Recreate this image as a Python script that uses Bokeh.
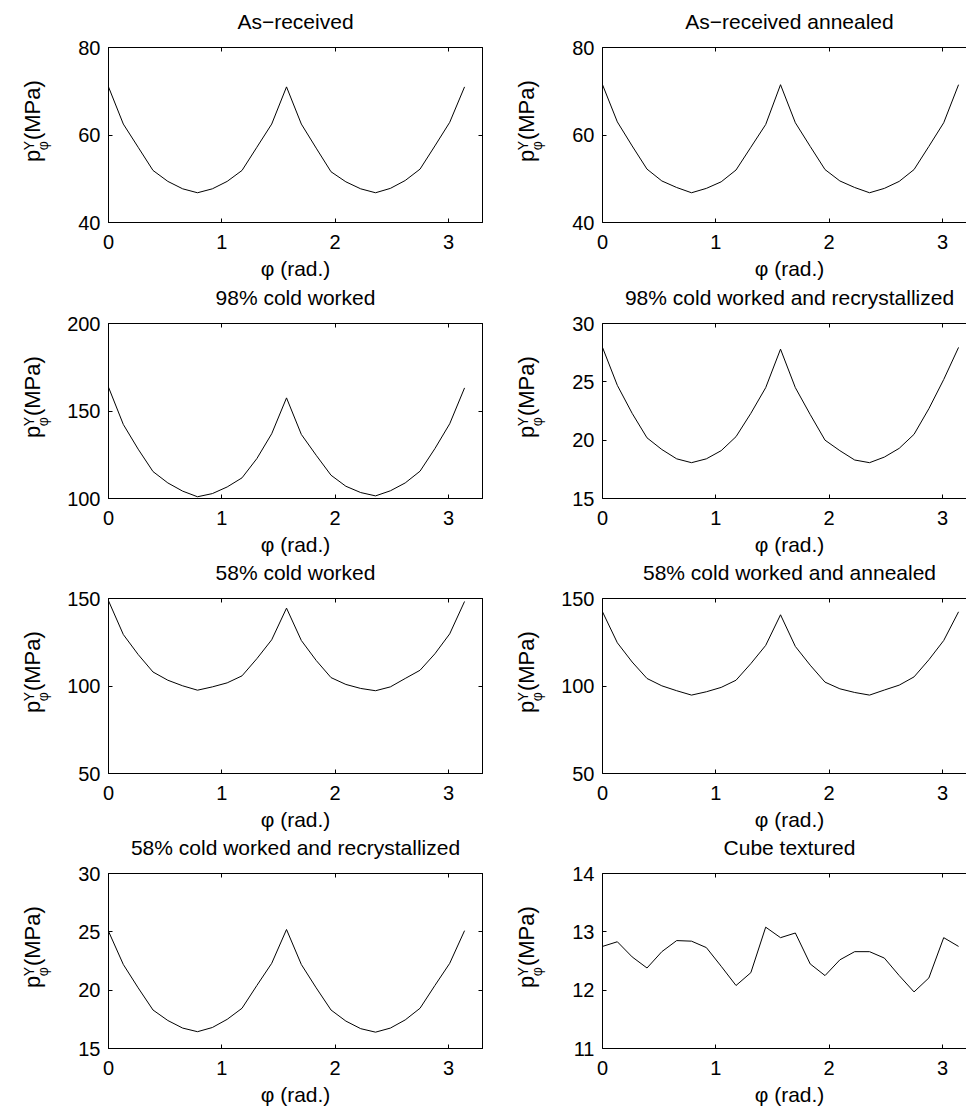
import numpy as np
from bokeh.plotting import figure
from bokeh.layouts import column, row
from bokeh.models import Range1d, FixedTicker, LinearAxis, Label, CustomJSTickFormatter
from bokeh.embed import file_html
from bokeh.resources import INLINE

FONT = "Liberation Sans"

# sample grid (phi in radians, step pi/24)
phi_step = np.pi / 24
phi = [i * phi_step for i in range(25)]

titles = [
    "As\u2212received",
    "As\u2212received annealed",
    "98% cold worked",
    "98% cold worked and recrystallized",
    "58% cold worked",
    "58% cold worked and annealed",
    "58% cold worked and recrystallized",
    "Cube textured",
]

as_received = [71.0, 62.5, 57.2, 51.9, 49.4, 47.7, 46.8, 47.7, 49.4, 51.9, 57.2, 62.5, 71.0,
               62.5, 57.0, 51.6, 49.3, 47.7, 46.8, 47.8, 49.6, 52.2, 57.5, 62.9, 71.0]
as_received_annealed = [71.5, 63.0, 57.5, 52.2, 49.5, 48.0, 46.8, 47.8, 49.3, 52.0, 57.2, 62.4, 71.5,
                        62.8, 57.4, 52.1, 49.5, 48.0, 46.8, 47.8, 49.4, 52.1, 57.4, 62.8, 71.5]
cw98 = [163.6, 142.3, 128.2, 115.4, 108.9, 104.2, 101.0, 102.8, 106.6, 111.8, 122.8, 137.0, 157.5,
        136.6, 124.7, 113.3, 107.0, 103.4, 101.5, 104.4, 108.9, 115.6, 128.5, 142.7, 163.2]
cw98_recryst = [27.95, 24.7, 22.3, 20.2, 19.2, 18.4, 18.07, 18.4, 19.1, 20.3, 22.3, 24.5, 27.8,
                24.5, 22.2, 20.0, 19.1, 18.3, 18.07, 18.55, 19.3, 20.5, 22.7, 25.2, 27.95]
cw58 = [148.7, 129.4, 118.0, 108.0, 103.3, 100.1, 97.6, 99.5, 101.8, 105.8, 115.6, 126.4, 144.5,
        126.0, 114.6, 104.8, 100.9, 98.6, 97.3, 99.5, 104.3, 109.0, 118.4, 129.8, 148.3]
cw58_annealed = [142.4, 124.7, 113.7, 104.3, 100.1, 97.3, 94.8, 96.7, 99.2, 103.3, 112.8, 123.2, 140.7,
                 122.6, 111.9, 102.2, 98.4, 96.3, 94.8, 97.7, 100.5, 105.2, 115.0, 126.0, 142.4]
cw58_recryst = [25.05, 22.2, 20.2, 18.3, 17.4, 16.75, 16.44, 16.8, 17.5, 18.45, 20.4, 22.3, 25.2,
                22.2, 20.2, 18.3, 17.35, 16.7, 16.4, 16.75, 17.45, 18.45, 20.4, 22.3, 25.1]
cube = [12.75, 12.83, 12.57, 12.38, 12.66, 12.85, 12.84, 12.73, 12.41, 12.08, 12.30, 13.08, 12.90,
        12.98, 12.45, 12.25, 12.52, 12.66, 12.66, 12.55, 12.25, 11.97, 12.21, 12.90, 12.75]

series = [as_received, as_received_annealed, cw98, cw98_recryst,
          cw58, cw58_annealed, cw58_recryst, cube]

y_ranges = [(40, 80), (40, 80), (100, 200), (15, 30), (50, 150), (50, 150), (15, 30), (11, 14)]
y_ticks = [[40, 60, 80], [40, 60, 80], [100, 150, 200], [15, 20, 25, 30],
           [50, 100, 150], [50, 100, 150], [15, 20, 25, 30], [11, 12, 13, 14]]
x_ticks = [0, 1, 2, 3]
x_label = "\u03c6 (rad.)"
y_label_main = "p"
y_label_sub = "\u03c6"
y_label_sup = "Y"
y_label_unit = "(MPa)"

# ---- layout (pixels) ----
X_FULL = 3.3
FRAME_W = 374
FRAME_W_R = 364
FRAME_H = 175
YL_W = 60            # width of the y-label strip
MAIN_L = 48          # left border of a panel (tick labels)
RIGHT_L = 12         # right border of left-column panels
MAIN_T = 12
MAIN_B = 35
MAIN_H = MAIN_T + FRAME_H + MAIN_B
W_TOTAL = YL_W + MAIN_L + FRAME_W + RIGHT_L + YL_W + MAIN_L + FRAME_W_R
FRAME_TOPS = [47, 323, 598, 873]
COL_CENTERS = [YL_W + MAIN_L + FRAME_W / 2,
               YL_W + MAIN_L + FRAME_W + RIGHT_L + YL_W + MAIN_L + FRAME_W / 2]
TITLE_RISE = 18.4
XLABEL_DROP = 53.5
TOTAL_H = 1108
FS = "20px"
MID = 0.3465         # baseline -> middle of text box, in em


def style_axis(ax, ticks, labels=True, standoff=8):
    ax.ticker = FixedTicker(ticks=ticks)
    ax.minor_tick_line_color = None
    ax.major_tick_in = 4
    ax.major_tick_out = 0
    ax.axis_line_color = "black"
    ax.axis_line_width = 1
    ax.major_tick_line_color = "black"
    ax.major_label_text_font = FONT
    ax.major_label_text_font_size = FS
    ax.major_label_text_color = "black"
    ax.major_label_standoff = standoff
    if not labels:
        ax.formatter = CustomJSTickFormatter(code="return ''")
        ax.major_label_standoff = 0
        ax.major_label_text_font_size = "0px"


def blank(width, height):
    f = figure(width=width, height=height, x_range=Range1d(0, width), y_range=Range1d(0, height),
               title=None, output_backend="svg", toolbar_location=None,
               x_axis_location=None, y_axis_location=None,
               min_border_left=0, min_border_right=0, min_border_top=0, min_border_bottom=0)
    f.grid.visible = False
    f.outline_line_color = None
    f.background_fill_color = "white"
    f.border_fill_color = "white"
    return f


def text_strip(top, bottom, items):
    h = bottom - top
    f = blank(W_TOTAL, h)
    for x, baseline, txt in items:
        mid = baseline - MID * 21
        f.add_layout(Label(x=x, y=h - (mid - top), text=txt, text_font=FONT,
                           text_font_size="21px", text_align="center",
                           text_baseline="middle", text_color="black"))
    return f


def ylabel_strip():
    f = blank(YL_W, MAIN_H)
    c = MAIN_T + FRAME_H / 2          # frame centre, from the strip top

    def put(text, size, base_x, centre_from_c):
        f.add_layout(Label(x=base_x - MID * size, y=MAIN_H - (c + centre_from_c),
                           text=text, angle=np.pi / 2, text_font=FONT,
                           text_font_size=f"{size}px", text_align="center",
                           text_baseline="middle", text_color="black"))

    put(y_label_main, 22, 40, 38)
    put(y_label_sup, 14, 33, 25)
    put(y_label_sub, 14, 47, 25)
    put(y_label_unit, 22, 40, -20)
    return f


def make_panel(idx):
    r, c = divmod(idx, 2)
    fw = FRAME_W if c == 0 else FRAME_W_R
    br = RIGHT_L if c == 0 else 0
    x_end = X_FULL * fw / FRAME_W
    y0, y1 = y_ranges[idx]
    p = figure(width=MAIN_L + fw + br, height=MAIN_H,
               x_range=Range1d(0, x_end), y_range=Range1d(y0, y1),
               title=None, output_backend="svg", toolbar_location=None,
               min_border_left=MAIN_L, min_border_right=br,
               min_border_top=MAIN_T, min_border_bottom=MAIN_B)
    p.grid.visible = False
    p.outline_line_color = "black" if c == 0 else None
    p.background_fill_color = "white"
    p.border_fill_color = "white"
    style_axis(p.xaxis[0], x_ticks, standoff=12)
    style_axis(p.yaxis[0], y_ticks[idx], standoff=8)
    top = LinearAxis()
    style_axis(top, x_ticks, labels=False)
    p.add_layout(top, "above")
    if c == 0:
        right = LinearAxis()
        style_axis(right, y_ticks[idx], labels=False)
        p.add_layout(right, "right")
    p.line(phi, series[idx], line_color="black", line_width=1)
    return p


items_rows = []
for r in range(4):
    items_rows.append(row(ylabel_strip(), make_panel(2 * r), ylabel_strip(), make_panel(2 * r + 1)))

parts = []
prev_bottom = 0
for r in range(4):
    main_top = FRAME_TOPS[r] - MAIN_T
    items = []
    if r > 0:
        fb = FRAME_TOPS[r - 1] + FRAME_H
        items += [(COL_CENTERS[0], fb + XLABEL_DROP, x_label),
                  (COL_CENTERS[1], fb + XLABEL_DROP, x_label)]
    items += [(COL_CENTERS[0], FRAME_TOPS[r] - TITLE_RISE, titles[2 * r]),
              (COL_CENTERS[1], FRAME_TOPS[r] - TITLE_RISE, titles[2 * r + 1])]
    parts.append(text_strip(prev_bottom, main_top, items))
    parts.append(items_rows[r])
    prev_bottom = main_top + MAIN_H

fb = FRAME_TOPS[3] + FRAME_H
parts.append(text_strip(prev_bottom, TOTAL_H,
                        [(COL_CENTERS[0], fb + XLABEL_DROP, x_label),
                         (COL_CENTERS[1], fb + XLABEL_DROP, x_label)]))

layout = column(*parts)

open("out.html", "w").write(file_html(layout, INLINE))
